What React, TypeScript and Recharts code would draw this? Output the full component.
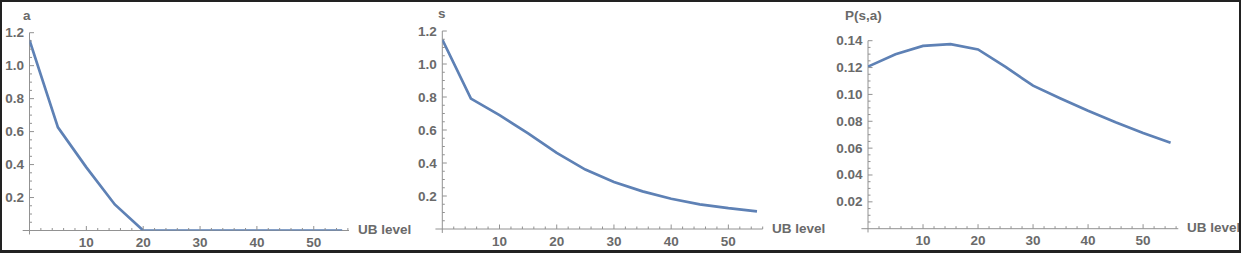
import React from "react";
import { LineChart, Line, XAxis, YAxis, ReferenceLine } from "recharts";

// UB level steps shared by all three panels
const ubLevel = [0, 5, 10, 15, 20, 25, 30, 35, 40, 45, 50, 55];
const aValues = [1.155, 0.626, 0.383, 0.158, 0, 0, 0, 0, 0, 0, 0, 0];
const sValues = [1.148, 0.79, 0.69, 0.58, 0.461, 0.36, 0.285, 0.228, 0.183, 0.149, 0.126, 0.107];
const pValues = [0.1207, 0.1299, 0.1361, 0.1374, 0.1335, 0.1205, 0.1065, 0.097, 0.0878, 0.0792, 0.0712, 0.064];

const xMajor = [10, 20, 30, 40, 50];
const xMajorLabels = ["10", "20", "30", "40", "50"];
const xMinor = [2, 4, 6, 8, 12, 14, 16, 18, 22, 24, 26, 28, 32, 34, 36, 38, 42, 44, 46, 48, 52, 54, 56];

const asMajor = [0.2, 0.4, 0.6, 0.8, 1.0, 1.2];
const asMajorLabels = ["0.2", "0.4", "0.6", "0.8", "1.0", "1.2"];
const pMajor = [0.02, 0.04, 0.06, 0.08, 0.1, 0.12, 0.14];
const pMajorLabels = ["0.02", "0.04", "0.06", "0.08", "0.10", "0.12", "0.14"];

const LINE = "#5e81b5";
const AXIS = "#929292";
const TEXT = "#6a6a6a";
const FONT = "'Liberation Sans', Arial, sans-serif";
const FS = 13.5;
const AXIS_W = 26;
const AXIS_H = 20;

function minorTicks(step: number, max: number) {
	const out: number[] = [];
	for (let i = 1; i * step <= max + 1e-9; i++) out.push(Math.round(i * step * 1e6) / 1e6);
	return out;
}

function findLabel(v: number, majors: number[], labels: string[]) {
	const i = majors.findIndex((m) => Math.abs(m - v) < 1e-7);
	return i >= 0 ? labels[i] : null;
}

function XTick(props: any) {
	const { x, y, payload } = props;
	const label = findLabel(payload.value, xMajor, xMajorLabels);
	return (
		<g>
			<line x1={x} x2={x} y1={y} y2={y - (label ? 4.5 : 2.5)} stroke={AXIS} strokeWidth={1} />
			{label && (
				<text x={x} y={y + 12} textAnchor="middle" dominantBaseline="central" fill={TEXT} fontSize={FS} fontWeight="bold" fontFamily={FONT}>
					{label}
				</text>
			)}
		</g>
	);
}

function makeYTick(majors: number[], labels: string[]) {
	return (props: any) => {
		const { x, y, payload } = props;
		const label = findLabel(payload.value, majors, labels);
		return (
			<g>
				<line x1={x} x2={x + (label ? 4.5 : 2.5)} y1={y} y2={y} stroke={AXIS} strokeWidth={1} />
				{label && (
					<text x={x - 5.5} y={y} textAnchor="end" dominantBaseline="central" fill={TEXT} fontSize={FS} fontWeight="bold" fontFamily={FONT}>
						{label}
					</text>
				)}
			</g>
		);
	};
}

interface PanelProps {
	left: number;
	width: number;
	values: number[];
	xMax: number;
	yMax: number;
	yTicks: number[];
	majors: number[];
	labels: string[];
	// plot area edges inside the panel
	plot: { top: number; right: number; bottom: number; left: number };
}

function Panel({ left, width, values, xMax, yMax, yTicks, majors, labels, plot }: PanelProps) {
	const data = ubLevel.map((u, i) => ({ u, v: values[i] }));
	const margin = {
		top: plot.top,
		right: plot.right,
		bottom: plot.bottom - AXIS_H,
		left: plot.left - AXIS_W,
	};
	return (
		<div style={{ position: "absolute", left, top: 0 }}>
			<LineChart width={width} height={253} data={data} margin={margin}>
				<XAxis
					dataKey="u"
					type="number"
					domain={[0, xMax]}
					allowDataOverflow
					ticks={[...xMinor, ...xMajor].sort((a, b) => a - b)}
					interval={0}
					height={AXIS_H}
					tickSize={0}
					tickMargin={0}
					axisLine={false}
					tickLine={false}
					tick={XTick}
				/>
				<YAxis
					type="number"
					domain={[0, yMax]}
					allowDataOverflow
					ticks={yTicks}
					interval={0}
					width={AXIS_W}
					tickSize={0}
					tickMargin={0}
					axisLine={false}
					tickLine={false}
					tick={makeYTick(majors, labels)}
				/>
				<ReferenceLine
					segment={[{ x: -1.2, y: 0 }, { x: xMax, y: 0 }]}
					ifOverflow="visible"
					stroke={AXIS}
					strokeWidth={1}
				/>
				<ReferenceLine
					segment={[{ x: 0, y: -yMax * 0.02 }, { x: 0, y: yMax }]}
					ifOverflow="visible"
					stroke={AXIS}
					strokeWidth={1}
				/>
				<Line
					type="linear"
					dataKey="v"
					stroke={LINE}
					strokeWidth={2.7}
					dot={false}
					isAnimationActive={false}
				/>
			</LineChart>
		</div>
	);
}

const titleStyle: React.CSSProperties = {
	position: "absolute",
	color: TEXT,
	fontFamily: FONT,
	fontWeight: "bold",
	fontSize: FS,
	lineHeight: "14px",
	whiteSpace: "nowrap",
	transform: "translateY(-50%)",
};

export default function App() {
	const asTicks = minorTicks(0.05, 1.2);
	const pTicks = minorTicks(0.005, 0.14);
	return (
		<div
			style={{
				position: "absolute",
				left: 0,
				top: 0,
				width: 1241,
				height: 253,
				boxSizing: "border-box",
				border: "2px solid #222",
				borderBottomWidth: 3,
				background: "#fff",
				overflow: "hidden",
			}}
		>
			<div style={{ position: "absolute", left: -2, top: -2 }}>
				<Panel
					left={0}
					width={410}
					values={aValues}
					xMax={56.2}
					yMax={1.2}
					yTicks={asTicks}
					majors={asMajor}
					labels={asMajorLabels}
					plot={{ top: 32.7, right: 61, bottom: 22.5, left: 29.5 }}
				/>
				<Panel
					left={412}
					width={410}
					values={sValues}
					xMax={56}
					yMax={1.2}
					yTicks={asTicks}
					majors={asMajor}
					labels={asMajorLabels}
					plot={{ top: 31, right: 59.3, bottom: 24, left: 30.3 }}
				/>
				<Panel
					left={830}
					width={411}
					values={pValues}
					xMax={56.4}
					yMax={0.14}
					yTicks={pTicks}
					majors={pMajor}
					labels={pMajorLabels}
					plot={{ top: 40.7, right: 62.7, bottom: 24.3, left: 38 }}
				/>
				<div style={{ ...titleStyle, left: 23, top: 16 }}>a</div>
				<div style={{ ...titleStyle, left: 438, top: 14 }}>s</div>
				<div style={{ ...titleStyle, left: 845, top: 16 }}>P(s,a)</div>
				<div style={{ ...titleStyle, left: 358, top: 230 }}>UB level</div>
				<div style={{ ...titleStyle, left: 772, top: 229 }}>UB level</div>
				<div style={{ ...titleStyle, left: 1187, top: 228 }}>UB level</div>
			</div>
		</div>
	);
}
